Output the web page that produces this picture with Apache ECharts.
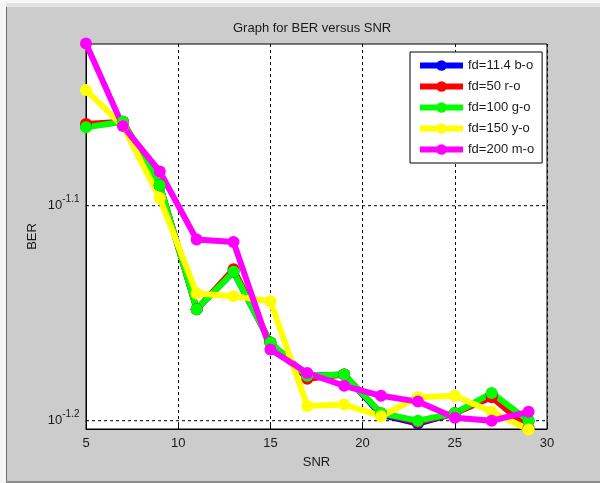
<!DOCTYPE html>
<html>
<head>
<meta charset="utf-8">
<script src="https://cdn.jsdelivr.net/npm/echarts@6/dist/echarts.min.js"></script>
<style>
  html, body { margin: 0; padding: 0; background: #cccccc; }
  #chart { width: 600px; height: 483px; }
</style>
</head>
<body>
<div id="chart"></div>
<script>
// SNR values on the x axis
var snr = [5, 7, 9, 11, 13, 15, 17, 19, 21, 23, 25, 27, 29]

// BER for every doppler frequency
var berFd114 = [0.0865, 0.0869, 0.0812, 0.0711, 0.0740, 0.0686, 0.0662, 0.0663, 0.0635, 0.0629, 0.0636, 0.0649, 0.0631]
var berFd50 = [0.0867, 0.0869, 0.0812, 0.0711, 0.0742, 0.0686, 0.0660, 0.0663, 0.0636, 0.0630, 0.0636, 0.0647, 0.0626]
var berFd100 = [0.0864, 0.0869, 0.0812, 0.0711, 0.0740, 0.0686, 0.0662, 0.0663, 0.0636, 0.0631, 0.0636, 0.0650, 0.0631]
var berFd150 = [0.0899, 0.0865, 0.0801, 0.0723, 0.0721, 0.0717, 0.0641, 0.0642, 0.0634, 0.0647, 0.0648, 0.0637, 0.0625]
var berFd200 = [0.0945, 0.0865, 0.0824, 0.0766, 0.0764, 0.0681, 0.0664, 0.0655, 0.0648, 0.0644, 0.0633, 0.0631, 0.0637]

// legend names and colours
var names = ['fd=11.4 b-o', 'fd=50 r-o', 'fd=100 g-o', 'fd=150 y-o', 'fd=200 m-o']
var colors = ['#0000ff', '#ff0000', '#00ff00', '#ffff00', '#ff00ff']

// y tick exponents (log axis) and x ticks
var yTickExp = [-1.1, -1.2]
var xTicks = [5, 10, 15, 20, 25, 30]

var font = 'Arial, "Liberation Sans", sans-serif'
var textColor = '#1a1a1a'

function pairs(ys) {
  return snr.map(function(x, i) { return [x, ys[i]] })
}

function lineSeries(name, color, ys) {
  return {
    name: name,
    type: 'line',
    data: pairs(ys),
    clip: false,
    symbol: 'circle',
    symbolSize: 12,
    itemStyle: { color: color },
    lineStyle: { color: color, width: 6 },
    animation: false
  }
}

// dashed y grid line with a 10^e label on the left of the axis
function yGridSeries(e) {
  var v = Math.pow(10, e)
  return {
    name: 'grid' + e,
    type: 'line',
    z: 1,
    silent: true,
    clip: false,
    symbol: 'circle',
    symbolSize: 1,
    itemStyle: { color: '#000000' },
    lineStyle: { color: '#000000', type: [3, 3], width: 1 },
    animation: false,
    data: [
      {
        value: [xTicks[0], v],
        label: {
          show: true,
          position: 'left',
          distance: 6,
          formatter: '{b|10}{s|' + e.toFixed(1) + '}',
          rich: {
            b: { fontSize: 13, color: textColor, fontFamily: font, lineHeight: 13, verticalAlign: 'bottom' },
            s: { fontSize: 10, color: textColor, fontFamily: font, lineHeight: 10, padding: [0, 0, 8, 0], verticalAlign: 'bottom' }
          }
        }
      },
      [xTicks[xTicks.length - 1], v]
    ]
  }
}

var chart = echarts.init(document.getElementById('chart'))

var series = yTickExp.map(yGridSeries)
series.push(lineSeries(names[0], colors[0], berFd114))
series.push(lineSeries(names[1], colors[1], berFd50))
series.push(lineSeries(names[2], colors[2], berFd100))
series.push(lineSeries(names[3], colors[3], berFd150))
series.push(lineSeries(names[4], colors[4], berFd200))

chart.setOption({
  backgroundColor: '#cccccc',
  animation: false,
  textStyle: { fontFamily: font },
  title: {
    text: 'Graph for BER versus SNR',
    left: 233,
    top: 22,
    padding: 0,
    textStyle: { fontSize: 13, fontWeight: 'normal', color: textColor, fontFamily: font }
  },
  graphic: [
    { type: 'rect', shape: { x: 0, y: 0, width: 600, height: 3 }, style: { fill: '#f6f6f6' }, silent: true },
    { type: 'rect', shape: { x: 0, y: 3, width: 600, height: 4 }, style: { fill: '#e2e2e2' }, silent: true },
    { type: 'rect', shape: { x: 0, y: 0, width: 6, height: 483 }, style: { fill: '#f6f6f6' }, silent: true },
    { type: 'rect', shape: { x: 6, y: 7, width: 1, height: 476 }, style: { fill: '#6e6e6e' }, silent: true },
    { type: 'rect', shape: { x: 6, y: 481, width: 594, height: 2 }, style: { fill: '#8a8a8a' }, silent: true }
  ],
  legend: {
    data: names,
    orient: 'vertical',
    left: 410,
    top: 52,
    padding: [7, 8, 7, 7],
    itemWidth: 43,
    itemHeight: 13,
    itemGap: 8,
    lineStyle: { width: 6 },
    backgroundColor: '#ffffff',
    borderColor: '#000000',
    borderWidth: 1,
    borderRadius: 0,
    textStyle: { fontSize: 13, color: textColor, fontFamily: font }
  },
  grid: {
    left: 86,
    right: 53,
    top: 44,
    bottom: 54,
    show: true,
    backgroundColor: '#ffffff',
    borderColor: '#000000',
    borderWidth: 1
  },
  xAxis: {
    type: 'value',
    min: xTicks[0],
    max: xTicks[xTicks.length - 1],
    interval: 5,
    name: 'SNR',
    nameLocation: 'middle',
    nameGap: 27,
    nameTextStyle: { fontSize: 13, color: textColor, fontFamily: font },
    axisLine: { lineStyle: { color: '#000000', width: 1 } },
    axisTick: { inside: true, length: 5, lineStyle: { color: '#000000' } },
    axisLabel: { fontSize: 13, color: textColor, margin: 8, fontFamily: font },
    splitLine: { show: true, lineStyle: { color: '#000000', type: [3, 3], width: 1 } }
  },
  yAxis: {
    type: 'log',
    logBase: 10,
    min: Math.pow(10, -1.20386),
    max: Math.pow(10, -1.02479),
    name: 'BER',
    nameLocation: 'middle',
    nameRotate: 90,
    nameGap: 47,
    nameTextStyle: { fontSize: 13, color: textColor, fontFamily: font },
    axisLine: { show: true, lineStyle: { color: '#000000', width: 1 } },
    axisTick: { show: false },
    axisLabel: { show: false },
    splitLine: { show: false }
  },
  series: series
})
</script>
</body>
</html>
